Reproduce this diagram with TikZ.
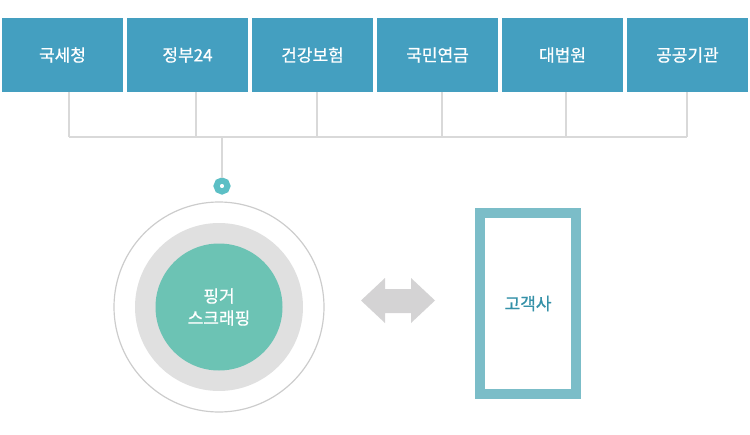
\documentclass[tikz,border=0pt]{standalone}
\usepackage{fontspec}
\newfontfamily\kr[FakeBold=0.8]{Noto Sans CJK KR}
\definecolor{boxblue}{HTML}{449FC0}
\definecolor{wire}{HTML}{D9D9D9}
\definecolor{dotteal}{HTML}{5CBFC5}
\definecolor{mint}{HTML}{6CC3B4}
\definecolor{ringgray}{HTML}{E0E0E0}
\definecolor{rimgray}{HTML}{CCCCCC}
\definecolor{arrowgray}{HTML}{D4D3D4}
\definecolor{frameteal}{HTML}{7BBDC8}
\definecolor{clienttext}{HTML}{3591A8}
\begin{document}
\begin{tikzpicture}[x=1pt,y=-1pt,font=\kr\fontsize{17}{22}\selectfont]
        \useasboundingbox (0,0) rectangle (750,434);
        \begin{scope}
          \begin{scope}[every node/.style={fill=boxblue, text=white, minimum width=121, minimum height=74, inner sep=0}]
            \node (nts) at (62.5,55) {국세청};
            \node (gov) at (187.5,55) {정부24};
            \node (nhis) at (312.5,55) {건강보험};
            \node (nps) at (437.5,55) {국민연금};
            \node (court) at (562.5,55) {대법원};
            \node (pub) at (687.5,55) {공공기관};
          \end{scope}
          \coordinate (j1) at (69,137);
          \coordinate (j2) at (196,137);
          \coordinate (j3) at (317,137);
          \coordinate (j4) at (442,137);
          \coordinate (j5) at (566,137);
          \coordinate (j6) at (687,137);
          \coordinate (hub) at (222,137);
          \node (dot) [circle, draw=dotteal, line width=6, fill=white, minimum size=11, inner sep=0] at (222,186) {};
          \begin{scope}[every edge/.style={draw=wire, line width=2}]
            \path (nts.south -| j1) edge (j1);
            \path (gov.south -| j2) edge (j2);
            \path (nhis.south -| j3) edge (j3);
            \path (nps.south -| j4) edge (j4);
            \path (court.south -| j5) edge (j5);
            \path (pub.south -| j6) edge (j6);
            \path (j1) edge (j6);
            \path (hub) edge (dot.north);
          \end{scope}
          \begin{scope}[every node/.style={circle, inner sep=0}]
            \node (rim) [draw=rimgray, line width=1.2, minimum size=210] at (219,307) {};
            \node (ring) [fill=ringgray, minimum size=168] at (219,307) {};
            \node (core) [fill=mint, text=white, align=center, minimum size=127] at (219,307) {핑거\\스크래핑};
          \end{scope}
          \fill[arrowgray] (361,300.5) -- (385,278) -- (385,289) -- (411,289) -- (411,278) -- (435,300.5)
            -- (411,323) -- (411,313) -- (385,313) -- (385,323) -- cycle;
          \node (client) [draw=frameteal, line width=10, text=clienttext, minimum width=96, minimum height=181, inner sep=0] at (528,303.5) {고객사};
        \end{scope}
      \end{tikzpicture}
\end{document}
